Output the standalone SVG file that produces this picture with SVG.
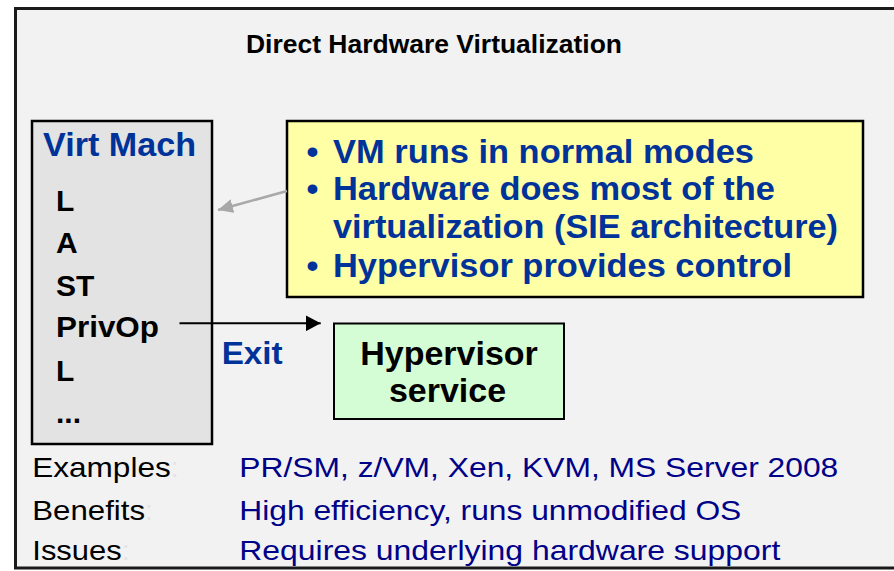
<svg xmlns="http://www.w3.org/2000/svg" width="894" height="571" viewBox="0 0 894 571">
  <defs>
    <style>
      text { font-family: "Liberation Sans", Arial, Helvetica, sans-serif; }
      .title { font-size: 26px; font-weight: bold; fill: #000; }
      .vmhead { font-size: 33px; font-weight: bold; fill: #003399; }
      .instr { font-size: 30px; font-weight: bold; fill: #000; }
      .bullet { font-size: 34px; font-weight: bold; fill: #003399; }
      .hv { font-size: 34px; font-weight: bold; fill: #000; text-anchor: middle; }
      .lbl { font-size: 28px; fill: #000; }
      .val { font-size: 28px; fill: #000088; }
      .faint { fill: #e4e4e4; }
      .box { stroke: #000; stroke-width: 2.5; }
    </style>
    <marker id="ahBlack" markerUnits="userSpaceOnUse" markerWidth="16" markerHeight="16" refX="15" refY="8" orient="auto">
      <path d="M0,0 L15,8 L0,16 Z" fill="#000"/>
    </marker>
    <marker id="ahGray" markerUnits="userSpaceOnUse" markerWidth="16" markerHeight="14" refX="15" refY="7" orient="auto">
      <path d="M0,0 L15,7 L0,14 Z" fill="#a8a8a8"/>
    </marker>
  </defs>

  <rect x="0" y="0" width="894" height="571" fill="#ffffff"/>
  <rect id="frame" x="15.5" y="8.5" width="900" height="559.5" fill="#f2f2f2" stroke="#1a1a1a" stroke-width="3"/>

  <text class="title" x="246" y="53" textLength="376" lengthAdjust="spacingAndGlyphs">Direct Hardware Virtualization</text>

  <g id="virt-mach">
    <rect class="box" x="32" y="121" width="180" height="323" fill="#e3e3e3"/>
    <text class="vmhead" x="43" y="156" textLength="153" lengthAdjust="spacingAndGlyphs">Virt Mach</text>
    <text class="instr" x="56" y="210.7">L</text>
    <text class="instr" x="56" y="253.2">A</text>
    <text class="instr" x="56" y="295.7">ST</text>
    <text class="instr" x="56" y="337" textLength="103" lengthAdjust="spacingAndGlyphs">PrivOp</text>
    <text class="instr" x="56" y="380.7">L</text>
    <text class="instr" x="56" y="423.2">...</text>
  </g>

  <g id="notes">
    <rect class="box" x="287" y="121" width="576" height="176" fill="#ffffa6" stroke-width="3"/>
    <text class="bullet" x="312.5" y="162.7" text-anchor="middle">•</text>
    <text class="bullet" x="333" y="162.7" textLength="421" lengthAdjust="spacingAndGlyphs">VM runs in normal modes</text>
    <text class="bullet" x="312.5" y="200" text-anchor="middle">•</text>
    <text class="bullet" x="333" y="200" textLength="442" lengthAdjust="spacingAndGlyphs">Hardware does most of the</text>
    <text class="bullet" x="333" y="238.3" textLength="505" lengthAdjust="spacingAndGlyphs">virtualization (SIE architecture)</text>
    <text class="bullet" x="312.5" y="276.7" text-anchor="middle">•</text>
    <text class="bullet" x="333" y="276.7" textLength="459" lengthAdjust="spacingAndGlyphs">Hypervisor provides control</text>
  </g>

  <g id="hypervisor">
    <rect x="334" y="323.5" width="230" height="95.5" fill="#d5fdd5" stroke="#000" stroke-width="2"/>
    <text class="hv" x="449" y="365">Hypervisor</text>
    <text class="hv" x="447.5" y="401.5">service</text>
  </g>

  <g id="connectors">
    <line x1="287" y1="191" x2="218" y2="210" stroke="#a8a8a8" stroke-width="2.5" marker-end="url(#ahGray)"/>
    <line x1="179.5" y1="323.3" x2="320.7" y2="323.3" stroke="#000" stroke-width="2" marker-end="url(#ahBlack)"/>
    <text class="vmhead" x="221.7" y="363.5" style="font-size:32px" textLength="61" lengthAdjust="spacingAndGlyphs">Exit</text>
  </g>

  <g id="summary">
    <text class="lbl" x="32.3" y="477.3"><tspan textLength="138.4" lengthAdjust="spacingAndGlyphs">Examples</tspan><tspan class="faint">:</tspan></text>
    <text class="val" x="239.3" y="477.3" textLength="599" lengthAdjust="spacingAndGlyphs">PR/SM, z/VM, Xen, KVM, MS Server 2008</text>
    <text class="lbl" x="32.3" y="519.5"><tspan textLength="112.7" lengthAdjust="spacingAndGlyphs">Benefits</tspan><tspan class="faint">:</tspan></text>
    <text class="val" x="239.3" y="519.5" textLength="502" lengthAdjust="spacingAndGlyphs">High efficiency, runs unmodified OS</text>
    <text class="lbl" x="32.3" y="560"><tspan textLength="89.4" lengthAdjust="spacingAndGlyphs">Issues</tspan><tspan class="faint">:</tspan></text>
    <text class="val" x="239.3" y="560" textLength="541" lengthAdjust="spacingAndGlyphs">Requires underlying hardware support</text>
  </g>
</svg>
